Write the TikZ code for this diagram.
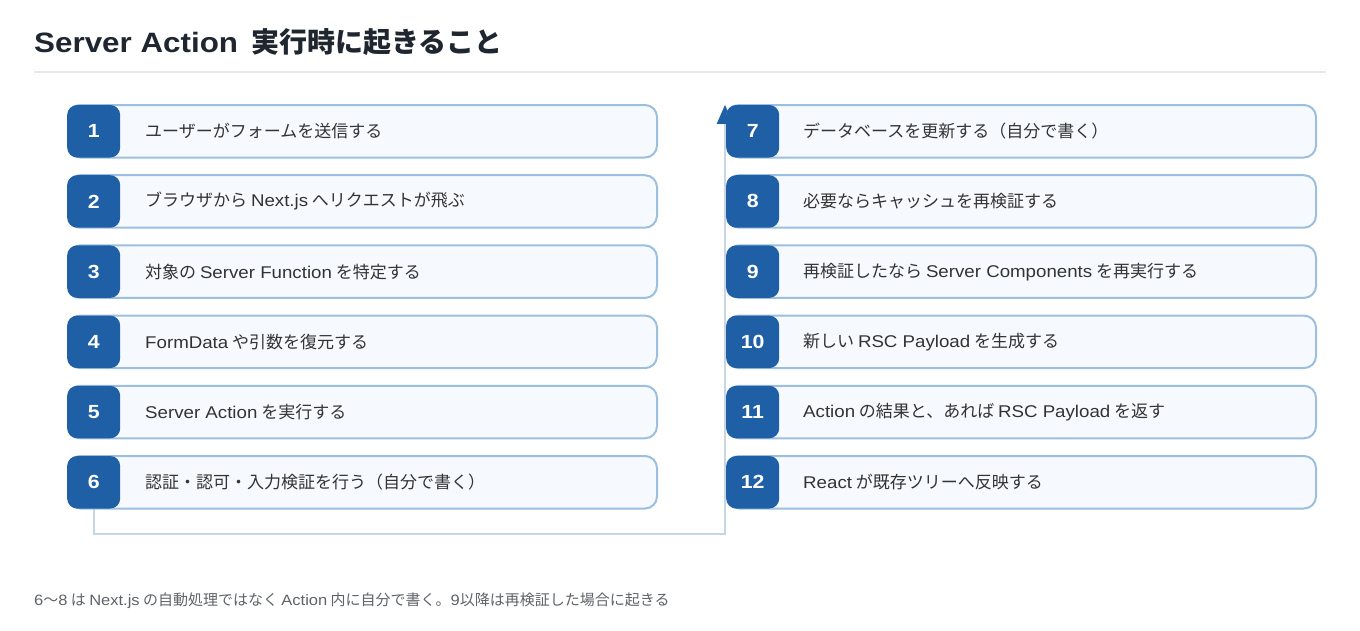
\documentclass[tikz,border=0pt]{standalone}
\usepackage{fontspec}
\setmainfont{Noto Sans CJK JP}
\newfontfamily\latfont[FakeStretch=1.1]{Liberation Sans}
\newfontfamily\latboldfont[FakeStretch=1.12]{Liberation Sans Bold}
\newcommand{\lt}[1]{{\latfont #1}}
\usetikzlibrary{arrows.meta,backgrounds}
\definecolor{badgeblue}{HTML}{1F5FA6}
\definecolor{boxline}{HTML}{9DBFDF}
\definecolor{boxfill}{HTML}{F6FAFE}
\definecolor{titlecol}{HTML}{1F2630}
\definecolor{textcol}{HTML}{333333}
\definecolor{notecol}{HTML}{5F6368}
\definecolor{rulecol}{HTML}{E6E8EB}
\definecolor{conncol}{HTML}{C8D5E3}
\tikzset{
  stepbox/.style={draw=boxline, line width=2pt, fill=boxfill, rounded corners=12pt,
    minimum width=589pt, minimum height=52.5pt, inner sep=0pt, anchor=north west},
  badge/.style={fill=badgeblue, rounded corners=10pt, minimum width=53pt,
    minimum height=52.5pt, inner sep=0pt, anchor=west, text=white,
    font=\fontsize{19}{22}\selectfont\latboldfont},
  steptext/.style={anchor=west, inner sep=0pt, text=textcol,
    font=\fontsize{17}{20}\selectfont},
  conn/.style={draw=conncol, line width=2pt,
    -{Triangle[length=19pt,width=16pt,color=badgeblue]}}
}
\begin{document}
\begin{tikzpicture}[x=1pt,y=-1pt]
\useasboundingbox (0,0) rectangle (1360,630);
\node[anchor=base west, inner sep=0pt, text=titlecol, font=\fontsize{28}{34}\selectfont\bfseries] (title) at (34,52) {{\latboldfont Server Action}\hspace{7pt} 実行時に起きること};
\draw[rulecol, line width=1.5pt] (34,72) coordinate (r1) -- (1326,72) coordinate (r2);
% left column
\foreach \i/\t [count=\k from 0] in {
  1/ユーザーがフォームを送信する,
  2/ブラウザから \lt{Next.js} へリクエストが飛ぶ,
  3/対象の \lt{Server Function} を特定する,
  4/\lt{FormData} や引数を復元する,
  5/\lt{Server Action} を実行する,
  6/認証・認可・入力検証を行う（自分で書く）}{
  \node[stepbox] (b\i) at (67,{104+70.2*\k}) {};
  \node[badge] (n\i) at (b\i.west) {\i};
  \node[steptext] (t\i) at ([xshift=78pt]b\i.west) {\t};
}
% right column
\foreach \i/\t [count=\k from 0] in {
  7/データベースを更新する（自分で書く）,
  8/必要ならキャッシュを再検証する,
  9/再検証したなら \lt{Server Components} を再実行する,
  10/新しい \lt{RSC Payload} を生成する,
  11/\lt{Action} の結果と、あれば \lt{RSC Payload} を返す,
  12/\lt{React} が既存ツリーへ反映する}{
  \node[stepbox] (b\i) at (726,{104+70.2*\k}) {};
  \node[badge] (n\i) at (b\i.west) {\i};
  \node[steptext] (t\i) at ([xshift=77pt]b\i.west) {\t};
}
% connector behind the boxes
\begin{scope}[on background layer]
  \draw[conn] (n6.south) -- ++(0,25) -| ([xshift=-1pt]n7.north west);
\end{scope}
\node[anchor=west, inner sep=0pt, text=notecol, font=\fontsize{15}{18}\selectfont] (note) at (34,601) {\lt{6}〜\lt{8} は \lt{Next.js} の自動処理ではなく \lt{Action} 内に自分で書く。\lt{9}以降は再検証した場合に起きる};
\end{tikzpicture}
\end{document}
